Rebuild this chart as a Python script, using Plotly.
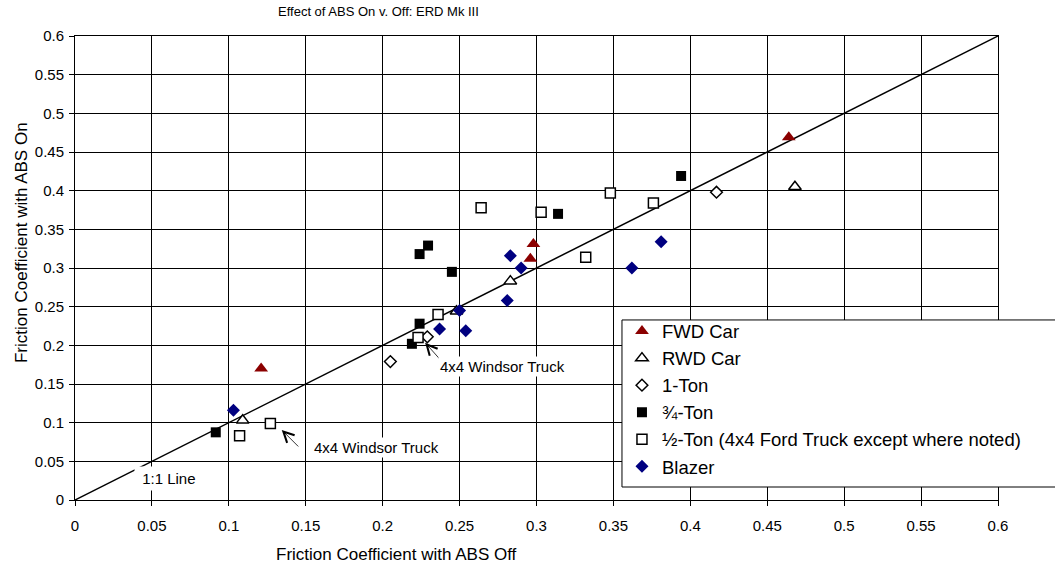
import plotly.graph_objects as go

# ---- data ----
fwd_x = [0.464, 0.298, 0.296, 0.121]
fwd_y = [0.469, 0.331, 0.312, 0.170]

rwd_x = [0.468, 0.283, 0.248, 0.109]
rwd_y = [0.405, 0.283, 0.244, 0.103]

ton1_x = [0.417, 0.205, 0.229]
ton1_y = [0.398, 0.179, 0.211]

ton34_x = [0.394, 0.314, 0.2295, 0.224, 0.245, 0.224, 0.219, 0.0915]
ton34_y = [0.419, 0.370, 0.329, 0.318, 0.295, 0.228, 0.202, 0.0875]

ton12_x = [0.264, 0.303, 0.348, 0.376, 0.332, 0.236, 0.223, 0.107, 0.127]
ton12_y = [0.378, 0.372, 0.397, 0.384, 0.314, 0.240, 0.210, 0.083, 0.099]

blazer_x = [0.283, 0.290, 0.281, 0.250, 0.237, 0.254, 0.362, 0.381, 0.103]
blazer_y = [0.316, 0.300, 0.258, 0.245, 0.221, 0.219, 0.300, 0.334, 0.116]

# 1:1 reference line (y = x)
diag_x = [0.0, 0.6]
diag_y = list(diag_x)

tick_vals = [0, 0.05, 0.1, 0.15, 0.2, 0.25, 0.3, 0.35, 0.4, 0.45, 0.5, 0.55, 0.6]
tick_text = ["0", "0.05", "0.1", "0.15", "0.2", "0.25", "0.3", "0.35", "0.4",
             "0.45", "0.5", "0.55", "0.6"]

series_names = ["FWD Car", "RWD Car", "1-Ton", "¾-Ton",
                "½-Ton (4x4 Ford Truck except where noted)", "Blazer"]

title_text = "Effect of ABS On v. Off: ERD Mk III"
xtitle_text = "Friction Coefficient with ABS Off"
ytitle_text = "Friction Coefficient with ABS On"
windsor_text = "4x4 Windsor Truck"
line_text = " 1:1 Line "

FONT = "Liberation Sans, Arial, sans-serif"

fig = go.Figure()

fig.add_trace(go.Scatter(x=diag_x, y=diag_y, mode="lines",
                         line=dict(color="black", width=1.5),
                         showlegend=False, hoverinfo="skip"))

fig.add_trace(go.Scatter(x=fwd_x, y=fwd_y, mode="markers", name=series_names[0],
                         marker=dict(symbol="triangle-up", size=12, color="#8b0000",
                                     line=dict(width=0))))
fig.add_trace(go.Scatter(x=rwd_x, y=rwd_y, mode="markers", name=series_names[1],
                         marker=dict(symbol="triangle-up", size=11, color="white",
                                     line=dict(width=1.5, color="black"))))
fig.add_trace(go.Scatter(x=ton1_x, y=ton1_y, mode="markers", name=series_names[2],
                         marker=dict(symbol="diamond", size=9, color="white",
                                     line=dict(width=1.5, color="black"))))
fig.add_trace(go.Scatter(x=ton34_x, y=ton34_y, mode="markers", name=series_names[3],
                         marker=dict(symbol="square", size=10, color="black",
                                     line=dict(width=0))))
fig.add_trace(go.Scatter(x=ton12_x, y=ton12_y, mode="markers", name=series_names[4],
                         marker=dict(symbol="square", size=10, color="white",
                                     line=dict(width=1.5, color="black"))))
fig.add_trace(go.Scatter(x=blazer_x, y=blazer_y, mode="markers", name=series_names[5],
                         marker=dict(symbol="diamond", size=10, color="#000080",
                                     line=dict(width=0))))

axis_common = dict(range=[0, 0.6], tickvals=tick_vals, ticktext=tick_text,
                   showgrid=True, gridcolor="black", gridwidth=1,
                   showline=True, mirror=True, linecolor="black", linewidth=1,
                   ticks="outside", ticklen=5, tickcolor="black",
                   zeroline=False, tickfont=dict(family=FONT, size=15, color="black"))

fig.update_xaxes(**axis_common, ticklabelstandoff=7)
fig.update_yaxes(**axis_common, ticklabelstandoff=2)

# arrow tips (data coords) and label centres
arrow1_tip = (0.2276, 0.2035)
arrow2_tip = (0.1344, 0.0906)
label1_pos = (0.2779, 0.1724)
label2_pos = (0.196, 0.0673)
line_label_pos = (0.0612, 0.0281)

annotations = [
    dict(x=arrow1_tip[0], y=arrow1_tip[1], xref="x", yref="y", text="",
         showarrow=True, ax=16, ay=18, arrowhead=5, arrowsize=2.6, arrowwidth=0.8,
         arrowcolor="black"),
    dict(x=arrow2_tip[0], y=arrow2_tip[1], xref="x", yref="y", text="",
         showarrow=True, ax=18, ay=18, arrowhead=5, arrowsize=2.6, arrowwidth=0.8,
         arrowcolor="black"),
    dict(x=label1_pos[0], y=label1_pos[1], xref="x", yref="y", text=windsor_text,
         showarrow=False, bgcolor="white", borderpad=1,
         font=dict(family=FONT, size=15, color="black")),
    dict(x=label2_pos[0], y=label2_pos[1], xref="x", yref="y", text=windsor_text,
         showarrow=False, bgcolor="white", borderpad=1,
         font=dict(family=FONT, size=15, color="black")),
    dict(x=line_label_pos[0], y=line_label_pos[1], xref="x", yref="y", text=line_text,
         showarrow=False, bgcolor="white", borderpad=3,
         font=dict(family=FONT, size=15, color="black")),
    dict(x=0.3283, y=1.052, xref="paper", yref="paper", text=title_text,
         showarrow=False, xanchor="center", yanchor="middle",
         font=dict(family=FONT, size=13, color="black")),
    dict(x=0.3478, y=-0.1185, xref="paper", yref="paper", text=xtitle_text,
         showarrow=False, xanchor="center", yanchor="middle",
         font=dict(family=FONT, size=17, color="black")),
    dict(x=-0.0574, y=0.5539, xref="paper", yref="paper", text=ytitle_text,
         showarrow=False, xanchor="center", yanchor="middle", textangle=-90,
         font=dict(family=FONT, size=17, color="black")),
]

fig.update_layout(
    width=1055, height=569,
    margin=dict(l=75, r=57, t=36, b=69, pad=0),
    paper_bgcolor="white", plot_bgcolor="white",
    font=dict(family=FONT, color="black"),
    showlegend=True,
    legend=dict(x=0.5926, y=0.404, xanchor="left", yanchor="top",
                bgcolor="rgba(0,0,0,0)", borderwidth=0,
                font=dict(family=FONT, size=18.5, color="black"),
                traceorder="normal"),
    shapes=[dict(type="rect", xref="paper", yref="paper",
                 x0=0.5926, x1=1.2, y0=0.028, y1=0.388,
                 line=dict(color="black", width=1), fillcolor="white",
                 layer="above")],
    annotations=annotations,
)

fig.write_html("out.html")
